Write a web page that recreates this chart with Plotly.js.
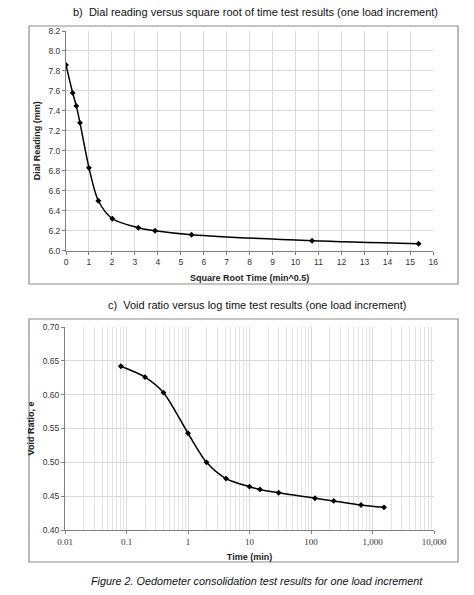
<!DOCTYPE html>
<html><head><meta charset="utf-8">
<script src="https://cdn.plot.ly/plotly-3.0.1.min.js"></script>
<style>html,body{margin:0;padding:0;background:#fff}#c{width:474px;height:595px}</style>
</head><body><div id="c"></div>
<script>
// Chart b: dial reading vs square root time
const sqrtTime = [0, 0.29, 0.45, 0.61, 1.0, 1.41, 2.02, 3.15, 3.88, 5.47, 10.72, 15.36];
const dialReading = [7.86, 7.58, 7.45, 7.28, 6.83, 6.50, 6.32, 6.23, 6.20, 6.16, 6.10, 6.07];
// Chart c: void ratio vs log time
const timeMin = [0.081, 0.20, 0.40, 1.0, 2.0, 4.15, 10, 14.8, 29.8, 116, 234, 650, 1540];
const voidRatio = [0.642, 0.626, 0.603, 0.543, 0.500, 0.476, 0.464, 0.460, 0.455, 0.447, 0.443, 0.437, 0.4335];
const logTickVals = [0.01, 0.1, 1, 10, 100, 1000, 10000];
const logTickText = ["0.01", "0.1", "1", "10", "100", "1,000", "10,000"];

const titleB = "b)  Dial reading versus square root of time test results (one load increment)";
const titleC = "c)  Void ratio versus log time test results (one load increment)";
const caption = "Figure 2. Oedometer consolidation test results for one load increment";

const W = 474, H = 595;
const px = v => v / W, py = v => 1 - v / H;
const sans = "Liberation Sans, Arial, sans-serif";
const serif = "Liberation Serif, Times New Roman, serif";
const grid = "#d9d9d9";
const axisCol = "#808080";

const traces = [
  {x: sqrtTime, y: dialReading, xaxis: 'x', yaxis: 'y', mode: 'lines+markers',
   line: {color: '#000', width: 1.5, shape: 'spline', smoothing: 0.8},
   marker: {symbol: 'diamond', size: 4.5, color: '#000'}, hoverinfo: 'skip'},
  {x: timeMin, y: voidRatio, xaxis: 'x2', yaxis: 'y2', mode: 'lines+markers',
   line: {color: '#000', width: 1.5, shape: 'spline', smoothing: 0.8},
   marker: {symbol: 'diamond', size: 4.5, color: '#000'}, hoverinfo: 'skip'}
];

const tickFont = {family: sans, size: 8.5, color: '#333'};
const axTitleFont = {family: sans, size: 9, color: '#222'};
const layout = {
  width: W, height: H, margin: {l: 0, r: 0, t: 0, b: 0},
  paper_bgcolor: '#fff', plot_bgcolor: '#fff', showlegend: false,
  xaxis: {domain: [px(66), px(433.3)], anchor: 'y', range: [0, 16], dtick: 1, tick0: 0,
    showgrid: true, gridcolor: grid, gridwidth: 1, zeroline: false,
    showline: true, linecolor: axisCol, linewidth: 1, ticks: 'outside', ticklen: 3, tickcolor: axisCol,
    tickfont: tickFont,
    title: {text: '<b>Square Root Time (min^0.5)</b>', font: axTitleFont, standoff: 8}},
  yaxis: {domain: [py(250.7), py(31)], anchor: 'x', range: [6.0, 8.2], dtick: 0.2, tick0: 6.0,
    tickformat: '.1f', showgrid: true, gridcolor: grid, gridwidth: 1, zeroline: false,
    showline: true, linecolor: axisCol, linewidth: 1, ticks: 'outside', ticklen: 3, tickcolor: axisCol,
    tickfont: tickFont,
    title: {text: '<b>Dial Reading (mm)</b>', font: axTitleFont, standoff: 6}},
  xaxis2: {domain: [px(65), px(434)], anchor: 'y2', type: 'log', range: [-2, 4],
    tickvals: logTickVals, ticktext: logTickText,
    showgrid: true, gridcolor: grid, gridwidth: 1, zeroline: false,
    minor: {dtick: 'D1', showgrid: true, gridcolor: '#e3e3e3', gridwidth: 1, ticks: ''},
    showline: true, linecolor: axisCol, linewidth: 1, ticks: 'outside', ticklen: 3, tickcolor: axisCol,
    tickfont: {family: serif, size: 9, color: '#333'},
    title: {text: '<b>Time (min)</b>', font: axTitleFont, standoff: 7}},
  yaxis2: {domain: [py(530), py(327)], anchor: 'x2', range: [0.40, 0.70], dtick: 0.05, tick0: 0.40,
    tickformat: '.2f', showgrid: true, gridcolor: grid, gridwidth: 1, zeroline: false,
    showline: true, linecolor: axisCol, linewidth: 1, ticks: 'outside', ticklen: 3, tickcolor: axisCol,
    tickfont: tickFont,
    title: {text: '<b>Void Ratio, e</b>', font: axTitleFont, standoff: 6}},
  shapes: [
    {type: 'rect', xref: 'paper', yref: 'paper', x0: px(29), x1: px(458), y0: py(284), y1: py(26),
     line: {color: '#8c8c8c', width: 1.2}, fillcolor: 'rgba(0,0,0,0)', layer: 'below'},
    {type: 'rect', xref: 'paper', yref: 'paper', x0: px(29), x1: px(458), y0: py(562), y1: py(319),
     line: {color: '#8c8c8c', width: 1.2}, fillcolor: 'rgba(0,0,0,0)', layer: 'below'}
  ],
  annotations: [
    {text: titleB, xref: 'paper', yref: 'paper', x: px(256), y: py(12), xanchor: 'center', yanchor: 'middle',
     showarrow: false, font: {family: sans, size: 11, color: '#111'}},
    {text: titleC, xref: 'paper', yref: 'paper', x: px(257), y: py(305), xanchor: 'center', yanchor: 'middle',
     showarrow: false, font: {family: sans, size: 11, color: '#111'}},
    {text: '<i>' + caption + '</i>', xref: 'paper', yref: 'paper', x: px(257), y: py(581), xanchor: 'center', yanchor: 'middle',
     showarrow: false, font: {family: sans, size: 10.8, color: '#111'}}
  ]
};
Plotly.newPlot('c', traces, layout, {staticPlot: true, displayModeBar: false});
</script></body></html>
